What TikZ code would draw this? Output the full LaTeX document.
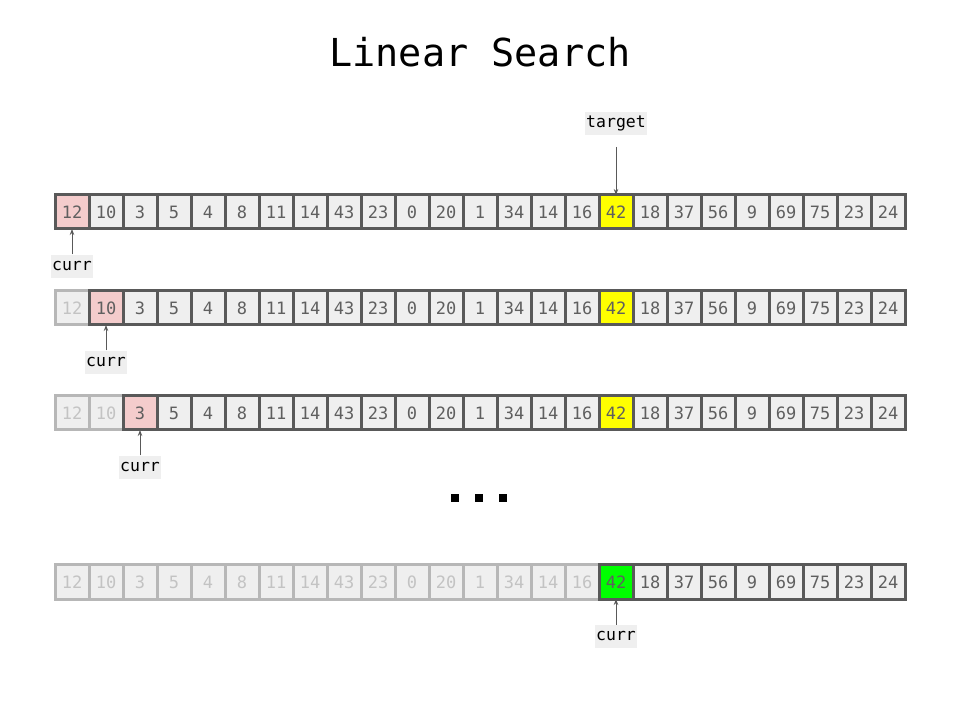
\documentclass[tikz,border=0pt]{standalone}
\usepackage{fontspec}
\setmonofont{DejaVu Sans Mono}
\usetikzlibrary{arrows.meta}
\usetikzlibrary{positioning}

\definecolor{edgegray}{HTML}{595959}
\definecolor{cellgray}{HTML}{EFEFEF}
\definecolor{numgray}{HTML}{5F5F5F}
\definecolor{fadeedge}{HTML}{B7B7B7}
\definecolor{fadetext}{HTML}{C3C3C3}
\definecolor{nowpink}{HTML}{F4CCCC}
\definecolor{hityellow}{HTML}{FFFF00}
\definecolor{hitgreen}{HTML}{00FF00}

\tikzset{
  cell/.style={draw=edgegray, fill=cellgray, line width=3pt, minimum width=34pt, minimum height=34pt,
    inner sep=0pt, outer sep=0pt, text=numgray, font=\fontsize{17}{20}\selectfont\ttfamily},
  faded/.style={draw=fadeedge, text=fadetext},
  tag/.style={fill=cellgray, inner xsep=1pt, inner ysep=3pt, text height=12.5pt, text depth=4.5pt,
    font=\fontsize{16.5}{20}\selectfont\ttfamily},
  pointer/.style={-{Stealth[length=6pt,width=4.5pt]}, draw=edgegray, line width=1pt}
}

\begin{document}
\begin{tikzpicture}[x=1pt,y=1pt]

\useasboundingbox (0,0) rectangle (960,720);

\node[font=\fontsize{38.5}{44}\selectfont\ttfamily] (title) at (480,668) {Linear Search};

\foreach \row/\y/\done/\cur in {1/508/0/0, 2/412/1/1, 3/307/2/2, 4/138/16/16} {
  \foreach \v [count=\i from 0] in {12,10,3,5,4,8,11,14,43,23,0,20,1,34,14,16,42,18,37,56,9,69,75,23,24} {
    \tikzset{look/.style={}}
    \ifnum\i<\done \tikzset{look/.style={faded}}\fi
    \ifnum\i=16 \tikzset{look/.style={fill=hityellow}}\fi
    \ifnum\i=\cur
      \ifnum\i=16 \tikzset{look/.style={fill=hitgreen}}\else \tikzset{look/.style={fill=nowpink}}\fi
    \fi
    \node[cell, look] (c\row-\i) at (72+34*\i,\y) {\v};
  }
}

\node[tag, above=60pt of c1-16] (goal) {target};
\draw[pointer, shorten <=12pt] (goal) -- (c1-16);

\node[tag, below=25.5pt of c1-0] (cur1) {curr};
\node[tag, below=25.5pt of c2-1] (cur2) {curr};
\node[tag, below=25.5pt of c3-2] (cur3) {curr};
\node[tag, below=25.5pt of c4-16] (cur4) {curr};

\draw[pointer] (cur1) -- (c1-0);
\draw[pointer] (cur2) -- (c2-1);
\draw[pointer] (cur3) -- (c3-2);
\draw[pointer] (cur4) -- (c4-16);

\fill (451,218) rectangle (459,226);
\fill (475,218) rectangle (483,226);
\fill (499,218) rectangle (507,226);

\end{tikzpicture}
\end{document}
